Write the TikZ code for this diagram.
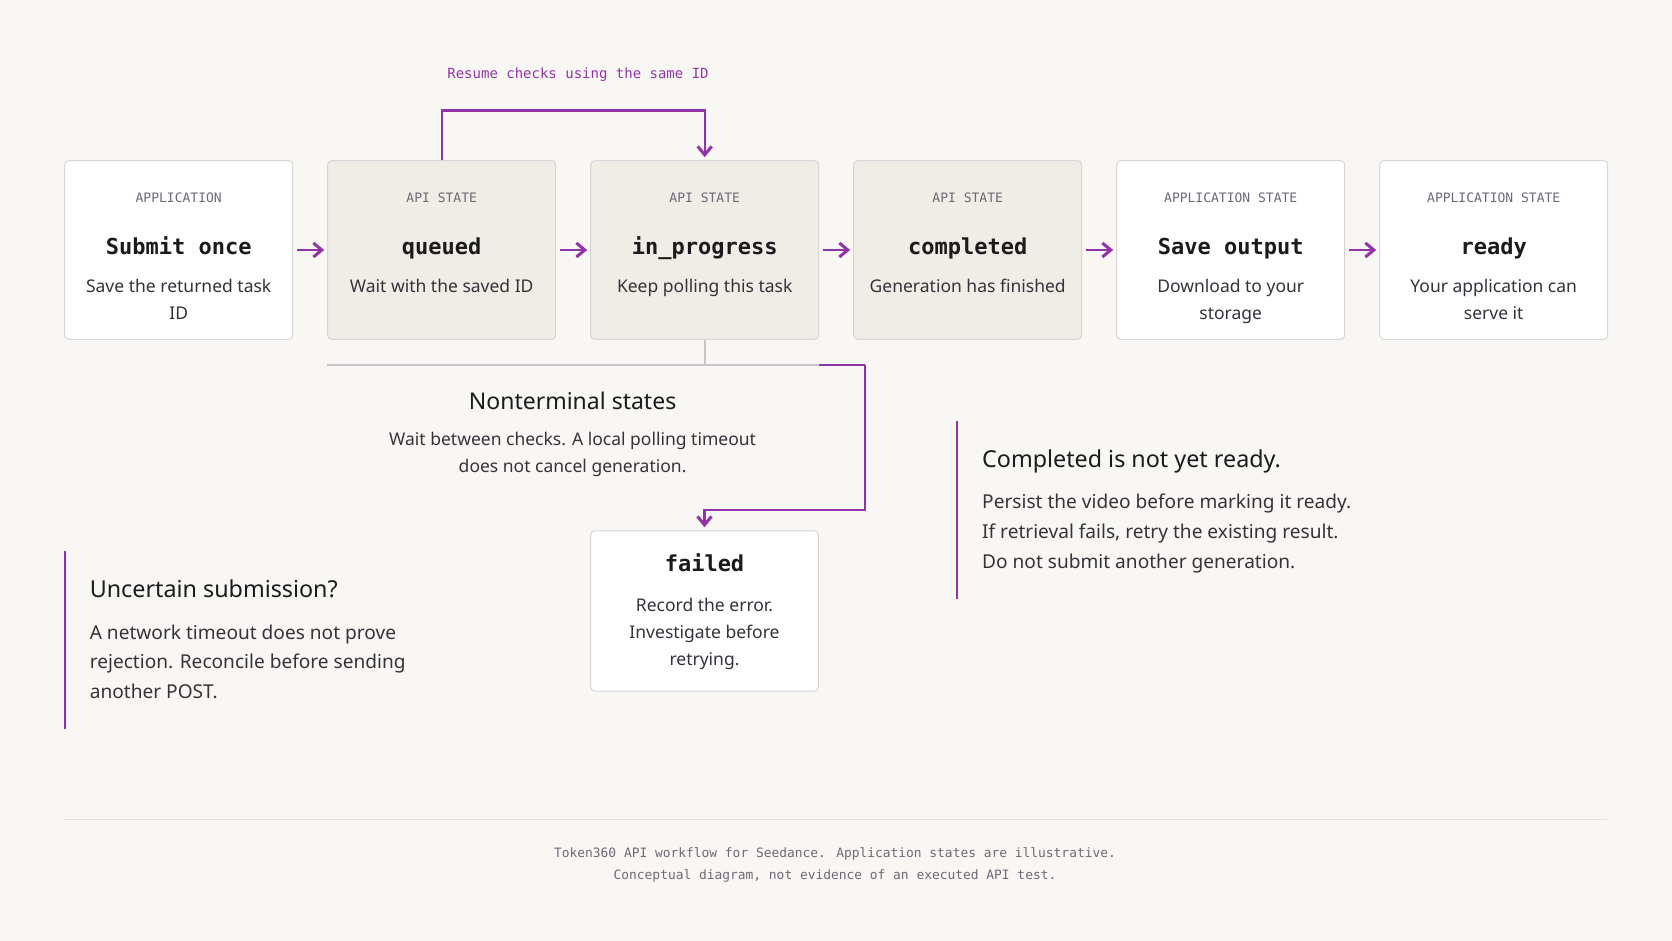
\documentclass[tikz,border=0pt]{standalone}
\usepackage{fontspec}
\setmainfont{Noto Sans}
\newfontfamily\monof{DejaVu Sans Mono}
\usetikzlibrary{arrows.meta}
\definecolor{bg}{HTML}{F8F7F4}
\definecolor{apifill}{HTML}{F0EDE7}
\definecolor{bord}{HTML}{D8D4DA}
\definecolor{purp}{HTML}{9333AA}
\definecolor{lab}{HTML}{6F6877}
\definecolor{ttl}{HTML}{1B1A1C}
\definecolor{txt}{HTML}{35323A}
\definecolor{grayln}{HTML}{C9C4CC}
\definecolor{rule}{HTML}{E2DEE0}
\tikzset{
  stbox/.style={draw=bord, line width=1pt, rounded corners=4pt, minimum width=228pt, minimum height=178.6pt, inner sep=0pt},
  appbox/.style={stbox, fill=white},
  apibox/.style={stbox, fill=apifill},
  tx/.style={anchor=base, inner sep=0pt},
  lbl/.style={tx, text=lab, font=\monof\fontsize{13}{15}\selectfont},
  ttlt/.style={tx, text=ttl, font=\monof\bfseries\fontsize{22}{26}\selectfont},
  desc/.style={tx, text=txt, font=\fontsize{17.5}{20}\selectfont},
  parr/.style={draw=purp, line width=2.2pt, -{Straight Barb[length=8.5pt,width=14pt,line width=3pt]}},
  pline/.style={draw=purp, line width=2.2pt},
  gline/.style={draw=grayln, line width=1.6pt},
  bar/.style={draw=purp, line width=2pt},
  coth/.style={tx, anchor=base west, text=ttl, font=\fontsize{23.3}{28}\selectfont},
  cobody/.style={tx, anchor=base west, text=txt, font=\fontsize{19.1}{22}\selectfont},
  foot/.style={tx, text=lab, font=\monof\fontsize{12.9}{15}\selectfont},
}
\begin{document}
\begin{tikzpicture}[x=1pt,y=-1pt]
\fill[bg] (0,0) rectangle (1672,941);
\useasboundingbox (0,0) rectangle (1672,941);

% boxes
\node[appbox] (b1) at (178.7,250) {};
\node[apibox] (b2) at (441.7,250) {};
\node[apibox] (b3) at (704.7,250) {};
\node[apibox] (b4) at (967.7,250) {};
\node[appbox] (b5) at (1230.7,250) {};
\node[appbox] (b6) at (1493.7,250) {};

% box texts
\node[lbl] (l1) at (178.7,202.4) {APPLICATION};
\node[ttlt] (t1) at (178.7,254.5) {Submit once};
\node[desc] (d1a) at (178.7,292.8) {Save the returned task};
\node[desc] (d1b) at (178.7,319.4) {ID};

\node[lbl] (l2) at (441.7,202.4) {API STATE};
\node[ttlt] (t2) at (441.7,254.5) {queued};
\node[desc] (d2a) at (441.7,292.8) {Wait with the saved ID};

\node[lbl] (l3) at (704.7,202.4) {API STATE};
\node[ttlt] (t3) at (704.7,254.5) {in\_progress};
\node[desc] (d3a) at (704.7,292.8) {Keep polling this task};

\node[lbl] (l4) at (967.7,202.4) {API STATE};
\node[ttlt] (t4) at (967.7,254.5) {completed};
\node[desc] (d4a) at (967.7,292.8) {Generation has finished};

\node[lbl] (l5) at (1230.7,202.4) {APPLICATION STATE};
\node[ttlt] (t5) at (1230.7,254.5) {Save output};
\node[desc] (d5a) at (1230.7,292.8) {Download to your};
\node[desc] (d5b) at (1230.7,319.4) {storage};

\node[lbl] (l6) at (1493.7,202.4) {APPLICATION STATE};
\node[ttlt] (t6) at (1493.7,254.5) {ready};
\node[desc] (d6a) at (1493.7,292.8) {Your application can};
\node[desc] (d6b) at (1493.7,319.4) {serve it};

% arrows between boxes
\draw[parr] ([xshift=4pt]b1.east) -- ([xshift=-3pt]b2.west);
\draw[parr] ([xshift=4pt]b2.east) -- ([xshift=-3pt]b3.west);
\draw[parr] ([xshift=4pt]b3.east) -- ([xshift=-3pt]b4.west);
\draw[parr] ([xshift=4pt]b4.east) -- ([xshift=-3pt]b5.west);
\draw[parr] ([xshift=4pt]b5.east) -- ([xshift=-3pt]b6.west);

% resume loop
\coordinate (lt) at (441.7,110.5);
\draw[parr, shorten >=3pt] (b2.north) -- (lt) -| (b3.north);
\node[tx, text=purp, font=\monof\fontsize{14}{16}\selectfont] (res) at (578,78.4) {Resume checks using the same ID};

% nonterminal bracket
\coordinate (jn) at (704.7,364.7);
\coordinate (gl) at (327.4,364.7);
\coordinate (gr) at (819,364.7);
\coordinate (pc) at (865,364.7);
\coordinate (pb) at (865,510);
\draw[gline] (b3.south) -- (jn);
\draw[gline] (gl) -- (gr);
\draw[pline] (gr) -- (pc);

% failed
\node[stbox, fill=white, minimum height=160.3pt, minimum width=227.6pt] (fb) at (704.5,610.9) {};
\draw[parr, shorten >=3pt] (pc) -- (pb) -| (fb.north);
\node[ttlt] (ft) at (704.5,571.3) {failed};
\node[desc] (f1) at (704.5,611.8) {Record the error.};
\node[desc] (f2) at (704.5,638.4) {Investigate before};
\node[desc] (f3) at (704.5,665.1) {retrying.};

\node[tx, text=ttl, font=\fontsize{23}{26}\selectfont] (nt) at (572.6,409) {Nonterminal states};
\node[desc] (n1) at (572.6,445.4) {Wait between checks. A local polling timeout};
\node[desc] (n2) at (572.6,472.1) {does not cancel generation.};

% left callout
\coordinate (lb1) at (65,551);
\coordinate (lb2) at (65,729);
\draw[bar] (lb1) -- (lb2);
\node[coth] (lct) at (89.6,597.2) {Uncertain submission?};
\node[cobody] (lc1) at (89.6,639) {A network timeout does not prove};
\node[cobody] (lc2) at (89.6,668.9) {rejection. Reconcile before sending};
\node[cobody] (lc3) at (89.6,698.7) {another POST.};

% right callout
\coordinate (rb1) at (956.5,421);
\coordinate (rb2) at (956.5,599);
\draw[bar] (rb1) -- (rb2);
\node[coth] (rct) at (982,467.1) {Completed is not yet ready.};
\node[cobody] (rc1) at (982,508.9) {Persist the video before marking it ready.};
\node[cobody] (rc2) at (982,538.7) {If retrieval fails, retry the existing result.};
\node[cobody] (rc3) at (982,568.7) {Do not submit another generation.};

% footer
\coordinate (fr1) at (64,819);
\coordinate (fr2) at (1607,819);
\draw[draw=rule, line width=1pt] (fr1) -- (fr2);
\node[foot] (ft1) at (835,857) {Token360 API workflow for Seedance. Application states are illustrative.};
\node[foot] (ft2) at (835,879.4) {Conceptual diagram, not evidence of an executed API test.};
\end{tikzpicture}
\end{document}
